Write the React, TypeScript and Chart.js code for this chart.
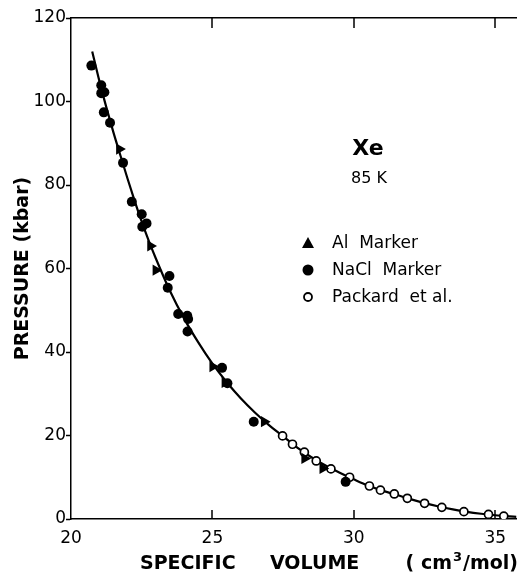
import React, { useEffect, useRef } from "react";
import { Chart, registerables } from "chart.js";

Chart.register(...registerables);

// ---- data (specific volume cm3/mol, pressure kbar) ----
const xTickValues = [20, 25, 30, 35];

const curveV = [20.75, 21, 21.25, 21.5, 21.75, 22, 22.25, 22.5, 22.75, 23, 23.5, 24, 24.5, 25, 25.5, 26, 26.5, 27, 27.5, 28, 28.5, 29, 29.5, 30, 30.5, 31, 31.5, 32, 32.5, 33, 33.5, 34, 34.5, 35, 35.75];
const curveP = [112, 105, 98.6, 92.6, 87, 81.5, 76.2, 71.2, 66.6, 62.4, 54.6, 48, 42.3, 37.2, 32.8, 28.9, 25.5, 22.5, 19.8, 17.1, 14.8, 12.8, 11.1, 9.5, 8.0, 6.8, 5.8, 4.75, 3.8, 3.0, 2.3, 1.7, 1.25, 0.9, 0.5];

const naclV = [20.72, 21.07, 21.07, 21.18, 21.16, 21.38, 21.84, 22.15, 22.5, 22.52, 22.67, 23.48, 23.42, 23.79, 24.11, 24.14, 24.12, 25.34, 25.53, 26.46, 29.71];
const naclP = [108.6, 103.9, 102.0, 102.2, 97.4, 94.9, 85.3, 76.0, 73.0, 70.0, 70.8, 58.2, 55.4, 49.1, 48.7, 47.9, 44.9, 36.2, 32.5, 23.3, 8.9];

const alV = [21.71, 22.81, 23.0, 25.01, 25.44, 26.83, 28.26, 28.9];
const alP = [88.6, 65.4, 59.6, 36.5, 32.7, 23.3, 14.5, 12.1];

const packV = [27.48, 27.83, 28.25, 28.67, 29.19, 29.85, 30.55, 30.94, 31.43, 31.89, 32.5, 33.11, 33.89, 34.76, 35.3];
const packP = [19.9, 17.9, 16.0, 13.9, 12.0, 10.0, 7.9, 6.9, 6.0, 4.96, 3.76, 2.8, 1.75, 1.1, 0.7];

const legendLabels = ["Al  Marker", "NaCl  Marker", "Packard  et al."];
const substanceLabel = "Xe";
const tempLabel = "85 K";
const yTitle = "PRESSURE (kbar)";
const xTitleWords = ["SPECIFIC", "VOLUME"];
const xTitleUnit = ["( cm", "3", "/mol)"];

const FONT = "'DejaVu Sans', sans-serif";

const pts = (xs: number[], ys: number[]) => xs.map((x, i) => ({ x, y: ys[i] }));

const decorPlugin = {
  id: "decor",
  afterDraw(chart: any) {
    const { ctx, chartArea, scales } = chart;
    const xs = scales.x;
    ctx.save();
    ctx.strokeStyle = "#000";
    ctx.lineWidth = 1.5;
    // inward ticks on bottom and top frame
    xTickValues.forEach((v) => {
      if (v === xs.min) return;
      const px = Math.round(xs.getPixelForValue(v));
      ctx.beginPath();
      ctx.moveTo(px, chartArea.bottom);
      ctx.lineTo(px, chartArea.bottom - 9);
      ctx.moveTo(px, chartArea.top);
      ctx.lineTo(px, chartArea.top + 10);
      ctx.stroke();
    });

    ctx.fillStyle = "#000";
    ctx.textAlign = "center";
    ctx.textBaseline = "middle";
    ctx.font = `bold 22px ${FONT}`;
    ctx.fillText(substanceLabel, 368, 149);
    ctx.font = `16px ${FONT}`;
    ctx.fillText(tempLabel, 369, 179);

    // legend
    const lx = 308;
    const ly = [243, 270, 297];
    ctx.beginPath();
    ctx.moveTo(lx, ly[0] - 6);
    ctx.lineTo(lx + 6, ly[0] + 5);
    ctx.lineTo(lx - 6, ly[0] + 5);
    ctx.closePath();
    ctx.fill();
    ctx.beginPath();
    ctx.arc(lx, ly[1], 5.5, 0, Math.PI * 2);
    ctx.fill();
    ctx.beginPath();
    ctx.arc(lx, ly[2], 4, 0, Math.PI * 2);
    ctx.fillStyle = "#fff";
    ctx.fill();
    ctx.lineWidth = 1.8;
    ctx.stroke();
    ctx.fillStyle = "#000";
    ctx.textAlign = "left";
    ctx.font = `17px ${FONT}`;
    legendLabels.forEach((t, i) => ctx.fillText(t, 332, ly[i] + 1));

    // x axis title
    ctx.textBaseline = "alphabetic";
    ctx.font = `bold 19px ${FONT}`;
    const base = 569;
    ctx.fillText(xTitleWords[0], 140, base);
    ctx.fillText(xTitleWords[1], 270, base);
    const w1 = ctx.measureText(xTitleUnit[0]).width;
    const w3 = ctx.measureText(xTitleUnit[2]).width;
    ctx.font = `bold 13px ${FONT}`;
    const w2 = ctx.measureText(xTitleUnit[1]).width;
    const start = 518 - (w1 + w2 + w3 + 2);
    ctx.font = `bold 19px ${FONT}`;
    ctx.fillText(xTitleUnit[0], start, base);
    ctx.font = `bold 13px ${FONT}`;
    ctx.fillText(xTitleUnit[1], start + w1 + 1, base - 8);
    ctx.font = `bold 19px ${FONT}`;
    ctx.fillText(xTitleUnit[2], start + w1 + w2 + 2, base);
    ctx.restore();
  },
};

export default function App() {
  const ref = useRef<HTMLCanvasElement | null>(null);

  useEffect(() => {
    if (!ref.current) return;
    const chart = new Chart(ref.current, {
      type: "scatter",
      data: {
        datasets: [
          {
            type: "line",
            label: "fit",
            data: pts(curveV, curveP),
            borderColor: "#000",
            borderWidth: 2.2,
            pointRadius: 0,
            cubicInterpolationMode: "monotone",
            fill: false,
            order: 5,
          } as any,
          {
            label: "NaCl Marker",
            data: pts(naclV, naclP),
            pointStyle: "circle",
            pointRadius: 5,
            backgroundColor: "#000",
            borderColor: "#000",
            borderWidth: 0,
            order: 1,
          },
          {
            label: "Al Marker",
            data: pts(alV, alP),
            pointStyle: "triangle",
            pointRadius: 6.5,
            pointRotation: 90,
            backgroundColor: "#000",
            borderColor: "#000",
            borderWidth: 0,
            order: 1,
          },
          {
            label: "Packard et al.",
            data: pts(packV, packP),
            pointStyle: "circle",
            pointRadius: 4,
            backgroundColor: "#fff",
            borderColor: "#000",
            borderWidth: 1.7,
            order: 1,
          },
        ],
      },
      options: {
        responsive: false,
        animation: false,
        layout: { padding: { top: 18, right: 0, left: 0, bottom: 0 } },
        plugins: { legend: { display: false }, tooltip: { enabled: false } },
        scales: {
          x: {
            type: "linear",
            position: "bottom",
            min: 20,
            max: 35.75,
            afterBuildTicks: (s: any) => {
              s.ticks = xTickValues.map((v) => ({ value: v }));
            },
            afterFit: (s: any) => {
              s.height = 61;
            },
            grid: { drawOnChartArea: false, drawTicks: false },
            border: { display: true, color: "#000", width: 1.5 },
            ticks: {
              color: "#000",
              padding: 9,
              font: { family: FONT, size: 17 },
              maxRotation: 0,
              autoSkip: false,
            },
          },
          xTop: {
            type: "linear",
            position: "top",
            min: 20,
            max: 35.75,
            afterFit: (s: any) => {
              s.height = 0;
            },
            grid: { drawOnChartArea: false, drawTicks: false },
            border: { display: true, color: "#000", width: 1.5 },
            ticks: { display: false },
          },
          y: {
            type: "linear",
            position: "left",
            min: 0,
            max: 120,
            afterFit: (s: any) => {
              s.width = 71;
            },
            grid: { drawOnChartArea: false, drawTicks: true, tickLength: 5, tickColor: "#000", tickWidth: 1.5 },
            border: { display: true, color: "#000", width: 1.5 },
            ticks: {
              stepSize: 20,
              color: "#000",
              padding: 0,
              font: { family: FONT, size: 17 },
            },
            title: {
              display: true,
              text: yTitle,
              color: "#000",
              font: { family: FONT, size: 19, weight: "bold" },
              padding: { top: 12, bottom: 0 },
            },
          },
        },
      },
      plugins: [decorPlugin],
    });
    return () => chart.destroy();
  }, []);

  return (
    <div style={{ position: "fixed", left: 0, top: 0, width: 523, height: 580, background: "#fff" }}>
      <canvas ref={ref} width={523} height={580} style={{ display: "block" }} />
    </div>
  );
}
